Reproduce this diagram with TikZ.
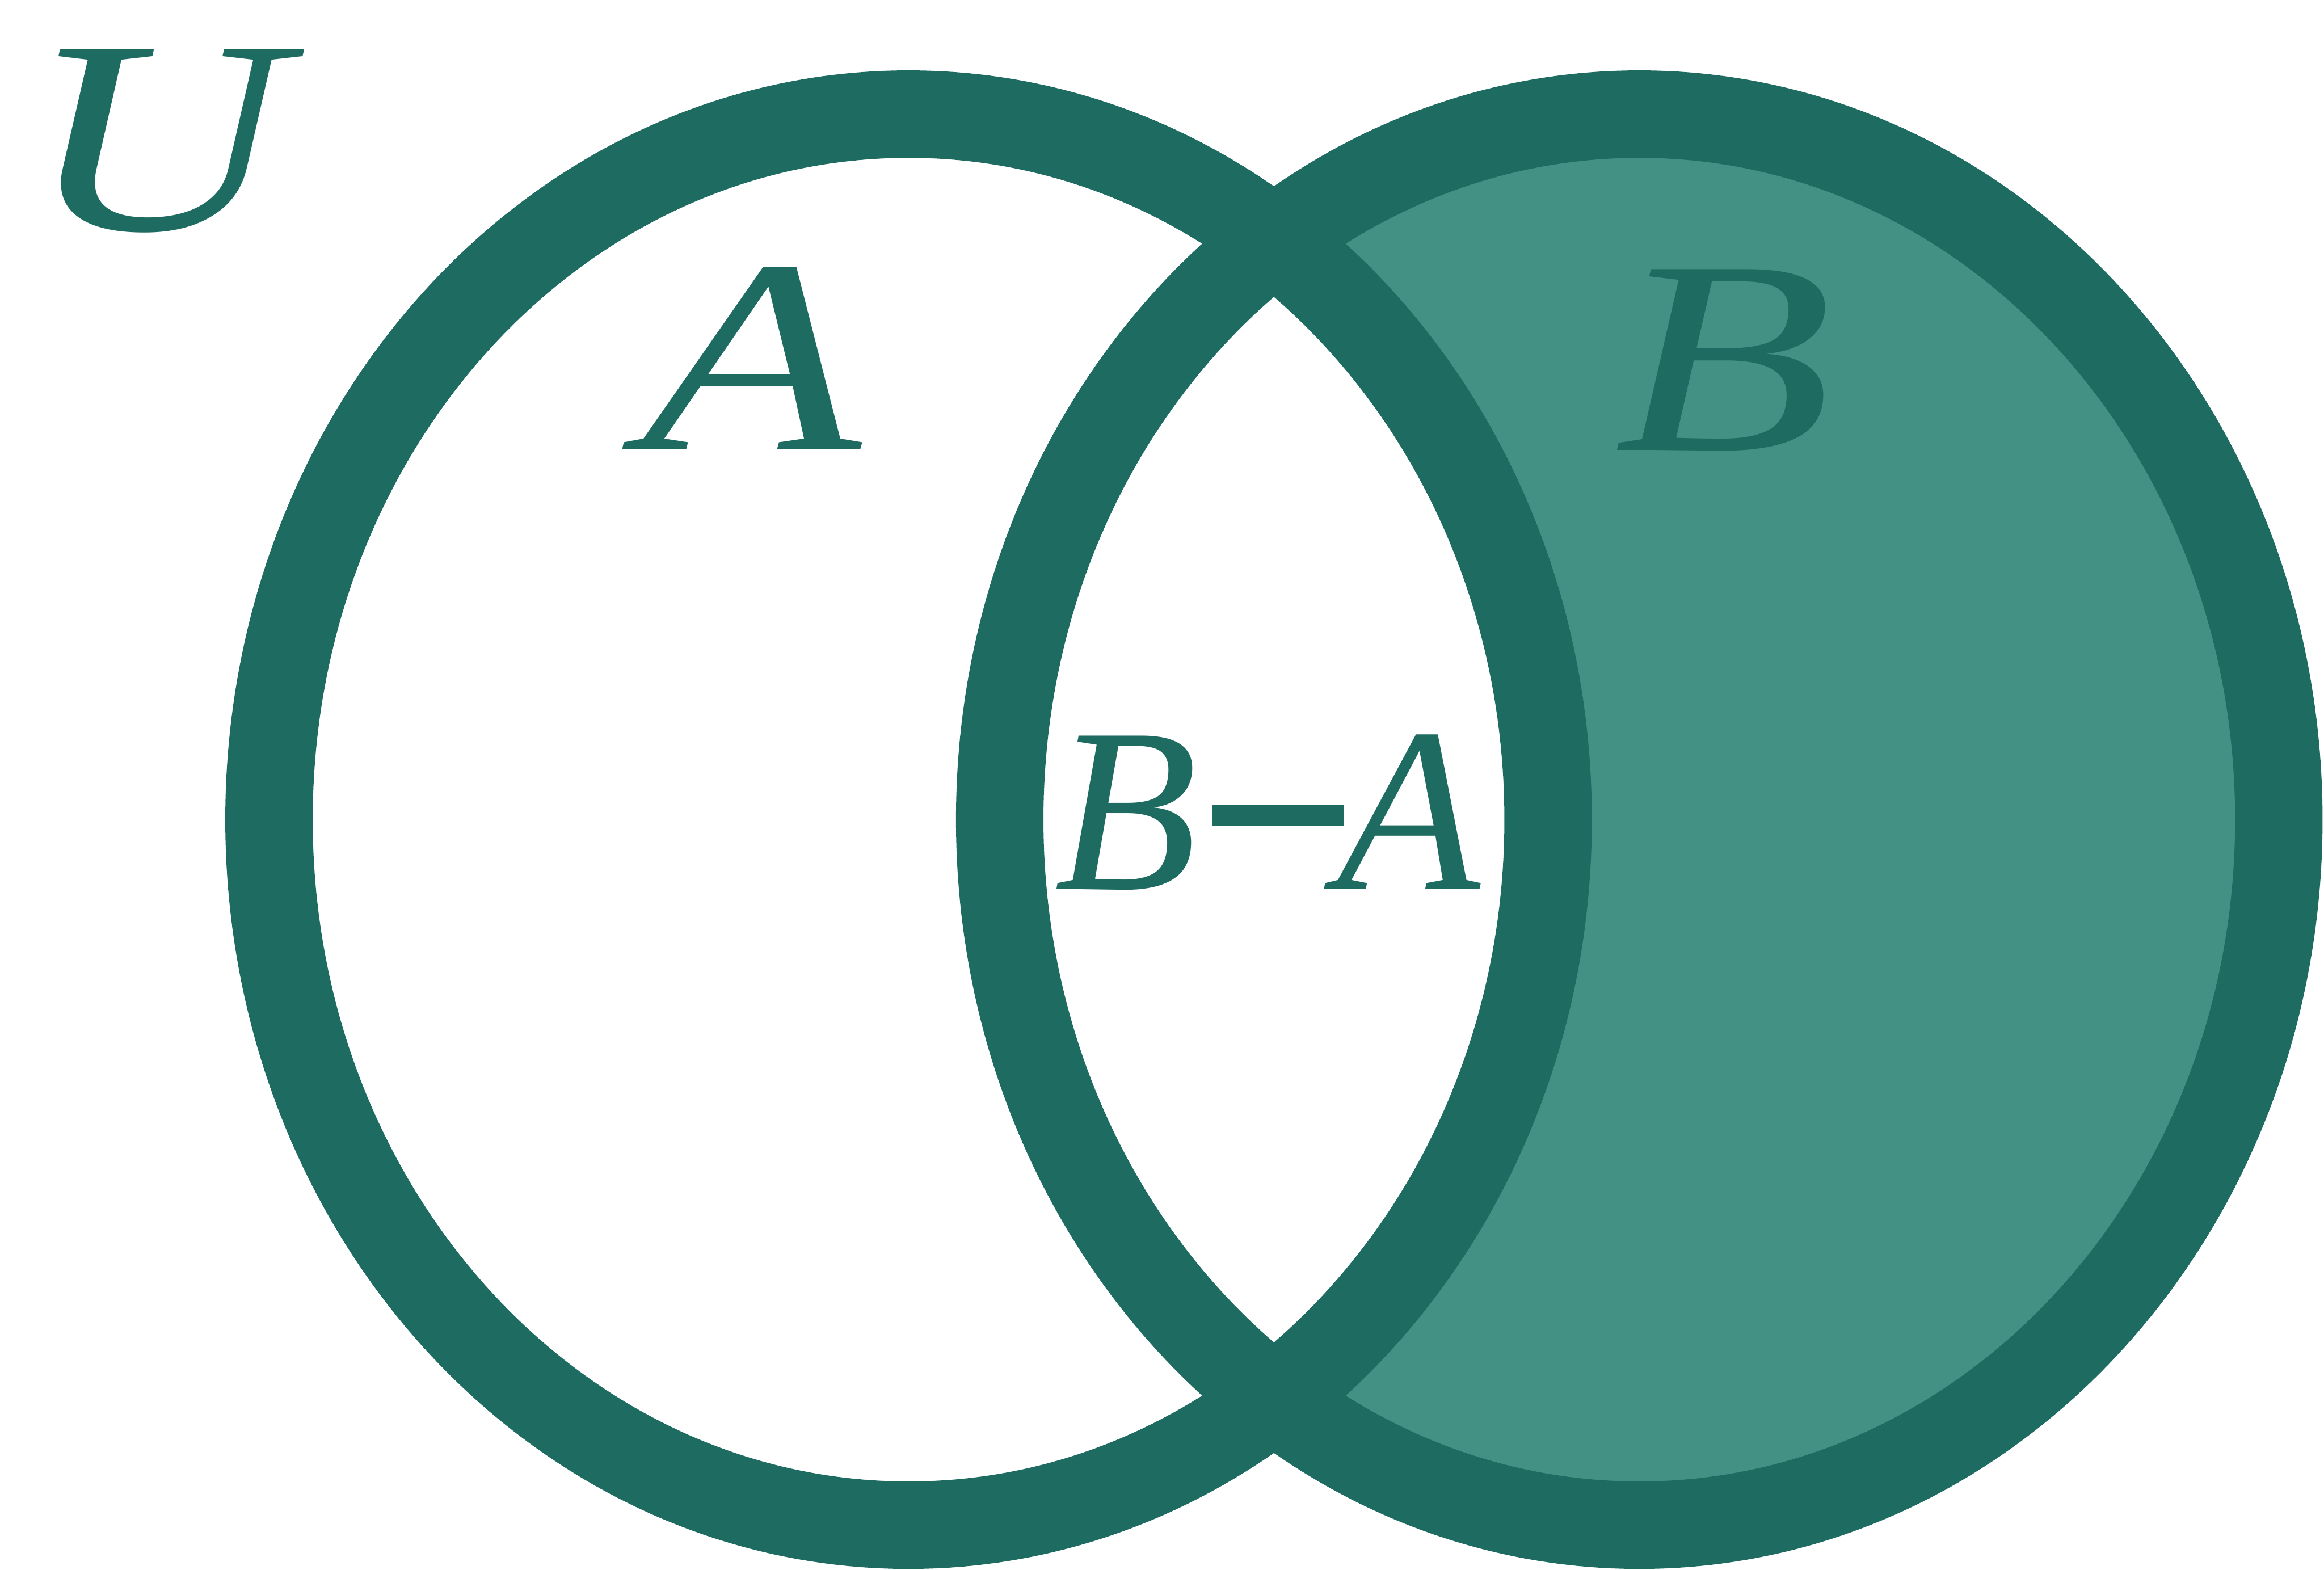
\documentclass[tikz,border=0pt]{standalone}
\usepackage{fontspec}
\setmainfont{Liberation Serif}
\newfontfamily\widefont[FakeStretch=1.3]{Liberation Serif}
\usepackage{tikz}
\definecolor{SetEdge}{RGB}{30,108,97}
\definecolor{SetFill}{RGB}{67,145,132}
\tikzset{
  setline/.style={draw=SetEdge,line width=0.59cm},
  setlabel/.style={inner sep=0pt,text=SetEdge,font=\widefont\fontsize{53}{60}\selectfont\itshape},
  difflabel/.style={inner sep=0pt,text=SetEdge,font=\fontsize{45}{50}\selectfont\itshape}
}
\begin{document}
\begin{tikzpicture}
  \useasboundingbox (0,0) rectangle (15.68,10.59);
  \coordinate (cA) at (6.13,5.06);
  \coordinate (cB) at (11.06,5.06);

  % B minus A shaded, A left white
  \fill[SetFill] (cB) ellipse [x radius=4.315cm,y radius=4.76cm];
  \fill[white] (cA) ellipse [x radius=4.315cm,y radius=4.76cm];
  \draw[setline] (cA) ellipse [x radius=4.315cm,y radius=4.76cm];
  \draw[setline] (cB) ellipse [x radius=4.315cm,y radius=4.76cm];

  \node[setlabel] (univ) at (1.05,9.64) {U};
  \node[setlabel] (setA) at (5.07,8.17) {A};
  \node[setlabel] (setB) at (11.63,8.16) {B};
  \node[difflabel] (diff) at (8.55,5.11) {B\hspace{0.10cm}\rule[0.43cm]{0.89cm}{0.14cm}\hspace{-0.05cm}A};
\end{tikzpicture}
\end{document}
